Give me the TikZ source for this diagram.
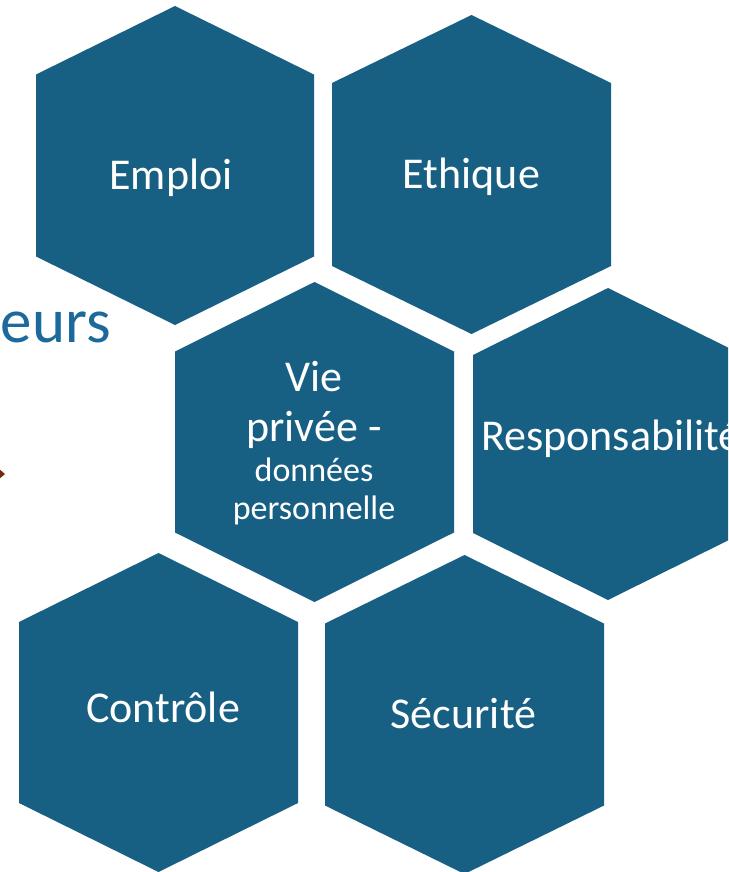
\documentclass[tikz,border=0pt]{standalone}
\usepackage{fontspec}
\setmainfont{Carlito}
\definecolor{hexblue}{HTML}{186083}
\definecolor{titleblue}{HTML}{1B6A9B}
\definecolor{tipbrown}{HTML}{6E2E0E}
\newcommand\hexshape[6]{%
  \fill[hexfill] ({#2},{#3-#5}) -- ({#2+#4},{#3-#6}) -- ({#2+#4},{#3+#6})
    -- ({#2},{#3+#5}) -- ({#2-#4},{#3+#6}) -- ({#2-#4},{#3-#6}) -- cycle;
  \coordinate (#1) at (#2,#3);}
\tikzset{
  hexfill/.style={fill=hexblue},
  lbl/.style={text=white, inner sep=0pt, anchor=base, font=\fontsize{44}{53}\selectfont},
  lblsmall/.style={text=white, inner sep=0pt, anchor=base, font=\fontsize{34}{41}\selectfont},
}
\begin{document}
\begin{tikzpicture}[x=1pt,y=-1pt]
\useasboundingbox (0,0) rectangle (728,872);
\clip (0,0) rectangle (728,872);
% title fragment
\node[text=titleblue, inner sep=0pt, anchor=base east, font=\fontsize{63}{75}\selectfont] (title) at (111,342) {eurs};
\fill[tipbrown] (-2,468) -- (5,474) -- (-2,480) -- cycle;
% hexagons
\hexshape{h1}{175}{165.5}{139}{159.5}{91}
\hexshape{h2}{471.5}{174.5}{139.5}{159.5}{91.5}
\hexshape{h3}{314.5}{442}{139.5}{160}{90.5}
\hexshape{h4}{608}{444}{135}{156}{89}
\hexshape{h5}{158.5}{712.5}{139.5}{159.5}{90.5}
\hexshape{h6}{464.5}{714.5}{139.5}{159.5}{91}
% labels
\node[lbl] (t1) at (171,189) {Emploi};
\node[lbl] (t2) at (471.5,188.5) {Ethique};
\node[lbl] (t3a) at (314,391.7) {Vie};
\node[lbl] (t3b) at (314,441) {privée -};
\node[lblsmall] (t3c) at (314,481.7) {données};
\node[lblsmall] (t3d) at (314,519.3) {personnelle};
\node[lbl] (t4) at (611,450) {Responsabilité};
\node[lbl] (t5) at (163,722.7) {Contrôle};
\node[lbl] (t6) at (463.5,728.3) {Sécurité};
\end{tikzpicture}
\end{document}
